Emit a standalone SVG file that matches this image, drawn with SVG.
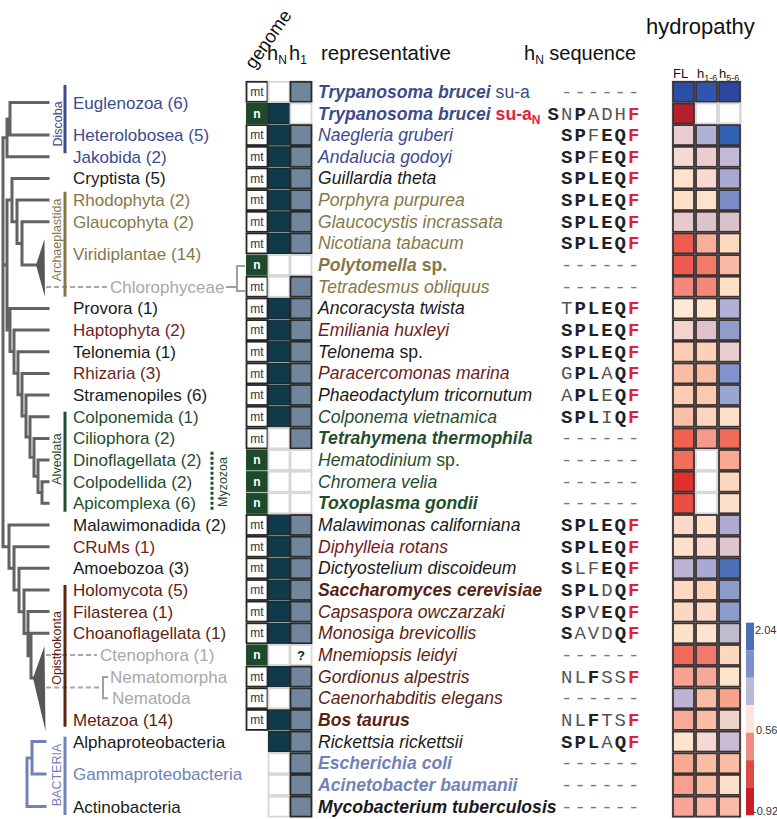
<svg xmlns="http://www.w3.org/2000/svg" xmlns:xlink="http://www.w3.org/1999/xlink" width="777" height="819" viewBox="0 0 777 819">
<defs>
<style>
text{font-family:"Liberation Sans",Arial,sans-serif}
.hdr{font-size:20px;fill:#111}
.sub{font-size:12px}
.tx{font-size:17px}
.rep{font-size:17.6px;font-style:italic}
.bd{font-weight:bold}
.up{font-style:normal}
.clade{font-size:12.5px;text-anchor:middle}
.seq{font-family:"Liberation Mono","Courier New",monospace;font-size:19px;letter-spacing:2px}
.k{font-weight:bold;fill:#222}
.g{fill:#555}
.r{font-weight:bold;fill:#e3203b}
.dash{fill:#777}
.tree{fill:none;stroke:#626262;stroke-width:3;stroke-linecap:square}
.btree{fill:none;stroke:#7282b8;stroke-width:3;stroke-linecap:square}
.dsh{fill:none;stroke:#a8a8a8;stroke-width:2;stroke-dasharray:5 3}
.brk{fill:none;stroke:#a0a0a0;stroke-width:2}
.bar{fill:none;stroke-width:3}
.mtb{fill:#fff;stroke:#262626;stroke-width:1.8}
.mtt{font-size:12px;fill:#333;text-anchor:middle}
.nb{fill:#1d4a2b;stroke:#1d4a2b;stroke-width:1}
.nt{font-size:12px;font-weight:bold;fill:#fff;text-anchor:middle}
.hnf{fill:#103a49;stroke:#1b2b33;stroke-width:1.2}
.h1f{fill:#71859d;stroke:#2a2a2a;stroke-width:1.8}
.emp{fill:#fff;stroke:#d6d6d6;stroke-width:1.8}
.hm{stroke:#3b3232;stroke-width:1.8}
.leg{font-size:11px;fill:#333}
</style>
<g id="gmt"><rect class="mtb" x="0" y="0" width="21" height="20"/><text class="mtt" x="10.5" y="14.2">mt</text></g>
<g id="gn"><rect class="nb" x="0" y="0" width="21" height="20"/><text class="nt" x="10.5" y="14.2">n</text></g>
<rect id="chn" class="hnf" width="21" height="20"/>
<rect id="ch1" class="h1f" width="21" height="20"/>
<rect id="ce" class="emp" width="21" height="20"/>
<g id="cq"><rect class="emp" width="21" height="20"/><text x="10.5" y="15" font-size="13" font-weight="bold" text-anchor="middle" fill="#222">?</text></g>
</defs>
<rect width="777" height="819" fill="#fff"/>

<g id="headers">
<text style="font-size:18.5px;fill:#111" transform="translate(254,70) rotate(-55)">genome</text>
<text class="hdr" x="267" y="60">h<tspan class="sub" dy="4">N</tspan></text>
<text class="hdr" x="289" y="60">h<tspan class="sub" dy="4">1</tspan></text>
<text class="hdr" x="321" y="60" style="font-size:20.5px">representative</text>
<text class="hdr" x="524" y="60">h<tspan class="sub" dy="4">N</tspan><tspan dy="-4"> sequence</tspan></text>
<text x="646" y="34" style="font-size:22px;fill:#111">hydropathy</text>
<text x="673" y="78" font-size="13" fill="#111">FL</text>
<text x="697" y="78" font-size="13" fill="#111">h<tspan font-size="9" dy="3">1-6</tspan></text>
<text x="719" y="78" font-size="13" fill="#111">h<tspan font-size="9" dy="3">5-6</tspan></text>
</g>

<g id="connectors">
<path class="tree" d="M10,102.6V135.1 M10,102.6H48 M10,135.1H48 M7,118.9V156.8 M7,118.9H10 M7,156.8H48
M3,137.8V546.7 M3,137.8H7 M3,265.1H7 M3,546.7H9
M7,200.1V330.1 M7,200.1H12 M7,330.1H10
M12,178.4V221.8 M12,178.4H48 M12,221.8H17 M17,200.1V243.4 M17,200.1H48 M17,243.4H22 M22,221.8V265.1 M22,221.8H48 M22,265.1H37
M10,308.4V351.6 M10,308.4H48 M10,351.6H14 M14,330.1V373.2 M14,330.1H48 M14,373.2H18 M18,351.7V394.7 M18,351.7H48 M18,394.7H22 M22,373.4V416 M22,373.4H48 M22,416H26 M26,395V437 M26,395H48 M26,437H30 M30,416.7V457.3 M30,416.7H48 M30,457.3H34 M34,438.4V476.3 M34,438.4H48 M34,476.3H38 M38,460V492.5 M38,460H48 M38,492.5H42 M42,481.7V503.3 M42,481.7H48 M42,503.3H48
M9,525V568.3 M9,525H48 M9,568.3H14 M14,546.7V590 M14,546.7H48 M14,590H19 M19,568.3V611.8 M19,568.3H48 M19,611.8H24 M24,590V633.6 M24,590H48 M24,633.6H28 M28,611.6V655.7 M28,611.6H48 M28,655.7H31 M31,633.3V678 M31,633.3H48 M31,678H34"/>
<polygon points="44.5,239 36,265.1 45,297" fill="#575757"/>
<polygon points="44.5,646 33,678 45.5,731" fill="#575757"/>
<path class="btree" d="M32,741.6V774.1 M32,741.6H45 M32,774.1H45 M27,757.9V806.6 M27,757.9H32 M27,806.6H45"/>
<path class="dsh" d="M46,287H107 M46,655H97 M46,687.5H102"/>
<path class="brk" d="M226,287H237 M245,266H237V291H245 M108,677H103V698.3H108"/>
</g>

<g id="clades">
<g id="clade-discoba"><line class="bar" x1="65" y1="85" x2="65" y2="153.3" stroke="#3d4b8c"/><text class="clade" fill="#3d4b8c" transform="translate(62,124) rotate(-90)">Discoba</text></g>
<g id="clade-archaeplastida"><line class="bar" x1="65" y1="191.7" x2="65" y2="296.7" stroke="#857848"/><text class="clade" fill="#857848" transform="translate(61,240) rotate(-90)">Archaeplastida</text></g>
<g id="clade-alveolata"><line class="bar" x1="65" y1="411.7" x2="65" y2="511.7" stroke="#1f4e2c"/><text class="clade" fill="#1f4e2c" transform="translate(61,459) rotate(-90)">Alveolata</text></g>
<g id="clade-myzozoa"><line class="bar" x1="212" y1="451.7" x2="212" y2="510" stroke="#1f4e2c" stroke-dasharray="3 2"/><text class="clade" fill="#1f4e2c" transform="translate(227,482) rotate(-90)">Myzozoa</text></g>
<g id="clade-opisthokonta"><line class="bar" x1="65" y1="585" x2="65" y2="726.7" stroke="#5b2412"/><text class="clade" fill="#5b2412" transform="translate(61,648) rotate(-90)">Opisthokonta</text></g>
<g id="clade-bacteria"><line class="bar" x1="65" y1="736.7" x2="65" y2="815" stroke="#7282b8"/><text class="clade" fill="#7282b8" transform="translate(61,775) rotate(-90)">BACTERIA</text></g>
</g>

<g id="taxa" class="tx">
<text id="t-euglenozoa" class="tx" x="73" y="108.6" fill="#3d4b8c">Euglenozoa (6)</text>
<text id="t-heterolobosea" class="tx" x="73" y="141.1" fill="#3d4b8c">Heterolobosea (5)</text>
<text id="t-jakobida" class="tx" x="73" y="162.8" fill="#3d4b8c">Jakobida (2)</text>
<text id="t-cryptista" class="tx" x="73" y="184.4" fill="#1a1a1a">Cryptista (5)</text>
<text id="t-rhodophyta" class="tx" x="73" y="206.1" fill="#857848">Rhodophyta (2)</text>
<text id="t-glaucophyta" class="tx" x="73" y="227.8" fill="#857848">Glaucophyta (2)</text>
<text id="t-viridiplantae" class="tx" x="73" y="260.3" fill="#857848">Viridiplantae (14)</text>
<text id="t-chlorophyceae" class="tx" x="110" y="292.7" fill="#a8a8a8">Chlorophyceae</text>
<text id="t-provora" class="tx" x="73" y="314.4" fill="#1a1a1a">Provora (1)</text>
<text id="t-haptophyta" class="tx" x="73" y="336.1" fill="#6e1e1e">Haptophyta (2)</text>
<text id="t-telonemia" class="tx" x="73" y="357.7" fill="#1a1a1a">Telonemia (1)</text>
<text id="t-rhizaria" class="tx" x="73" y="379.4" fill="#6e1e1e">Rhizaria (3)</text>
<text id="t-stramenopiles" class="tx" x="73" y="401" fill="#1a1a1a">Stramenopiles (6)</text>
<text id="t-colponemida" class="tx" x="73" y="422.7" fill="#1f4e2c">Colponemida (1)</text>
<text id="t-ciliophora" class="tx" x="73" y="444.4" fill="#1f4e2c">Ciliophora (2)</text>
<text id="t-dinoflagellata" class="tx" x="73" y="466" fill="#1f4e2c">Dinoflagellata (2)</text>
<text id="t-colpodellida" class="tx" x="73" y="487.7" fill="#1f4e2c">Colpodellida (2)</text>
<text id="t-apicomplexa" class="tx" x="73" y="509.3" fill="#1f4e2c">Apicomplexa (6)</text>
<text id="t-malawimonadida" class="tx" x="73" y="531" fill="#1a1a1a">Malawimonadida (2)</text>
<text id="t-crums" class="tx" x="73" y="552.7" fill="#6e1e1e">CRuMs (1)</text>
<text id="t-amoebozoa" class="tx" x="73" y="574.3" fill="#1a1a1a">Amoebozoa (3)</text>
<text id="t-holomycota" class="tx" x="73" y="596" fill="#5b2412">Holomycota (5)</text>
<text id="t-filasterea" class="tx" x="73" y="617.6" fill="#5b2412">Filasterea (1)</text>
<text id="t-choanoflagellata" class="tx" x="73" y="639.3" fill="#5b2412">Choanoflagellata (1)</text>
<text id="t-ctenophora" class="tx" x="100" y="661" fill="#a8a8a8">Ctenophora (1)</text>
<text id="t-nematomorpha" class="tx" x="110" y="682.6" fill="#a8a8a8">Nematomorpha</text>
<text id="t-nematoda" class="tx" x="112" y="704.3" fill="#a8a8a8">Nematoda</text>
<text id="t-metazoa" class="tx" x="73" y="725.9" fill="#5b2412">Metazoa (14)</text>
<text id="t-alpha" class="tx" x="73" y="747.6" fill="#1a1a1a">Alphaproteobacteria</text>
<text id="t-gamma" class="tx" x="73" y="780.1" fill="#7282b8">Gammaproteobacteria</text>
<text id="t-actino" class="tx" x="73" y="812.6" fill="#1a1a1a">Actinobacteria</text>
</g>

<rect x="671" y="80.5" width="71" height="737.5" fill="#e4e9ef"/>

<g id="rows">
<g id="r0"><use href="#gmt" x="246.5" y="81.8"/><use href="#ce" x="268.5" y="81.8"/><use href="#ch1" x="290.5" y="81.8"/>
<text class="rep" x="318" y="97.8" fill="#3d4b8c"><tspan class="bd">Trypanosoma brucei</tspan><tspan class="up"> su-a</tspan></text>
<text class="seq dash" x="561" y="97.8">------</text>
<rect class="hm" x="673" y="81.8" width="21" height="20" fill="#2c4fa6"/><rect class="hm" x="696" y="81.8" width="21" height="20" fill="#2f56ae"/><rect class="hm" x="719" y="81.8" width="21" height="20" fill="#2b47a2"/></g>

<g id="r1"><use href="#gn" x="246.5" y="103.5"/><use href="#chn" x="268.5" y="103.5"/><use href="#ce" x="290.5" y="103.5"/>
<text class="rep bd" x="318" y="119.5" fill="#3d4b8c">Trypanosoma brucei<tspan class="up" fill="#e3203b"> su-a</tspan><tspan class="up sub" fill="#e3203b" dy="4">N</tspan></text>
<text class="seq" x="547.6" y="119.5"><tspan class="k">S</tspan><tspan class="g">N</tspan><tspan class="k">P</tspan><tspan class="g">ADH</tspan><tspan class="r">F</tspan></text>
<rect class="hm" x="673" y="103.5" width="21" height="20" fill="#b5212b"/><use href="#ce" x="696" y="103.5"/><use href="#ce" x="719" y="103.5"/></g>

<g id="r2"><use href="#gmt" x="246.5" y="125.1"/><use href="#chn" x="268.5" y="125.1"/><use href="#ch1" x="290.5" y="125.1"/>
<text class="rep" x="318" y="141.1" fill="#3d4b8c">Naegleria gruberi</text>
<text class="seq" x="561" y="141.1"><tspan class="k">SP</tspan><tspan class="g">F</tspan><tspan class="k">EQ</tspan><tspan class="r">F</tspan></text>
<rect class="hm" x="673" y="125.1" width="21" height="20" fill="#ebccd0"/><rect class="hm" x="696" y="125.1" width="21" height="20" fill="#afb0d6"/><rect class="hm" x="719" y="125.1" width="21" height="20" fill="#3462b3"/></g>

<g id="r3"><use href="#gmt" x="246.5" y="146.8"/><use href="#chn" x="268.5" y="146.8"/><use href="#ch1" x="290.5" y="146.8"/>
<text class="rep" x="318" y="162.8" fill="#3d4b8c">Andalucia godoyi</text>
<text class="seq" x="561" y="162.8"><tspan class="k">SP</tspan><tspan class="g">F</tspan><tspan class="k">EQ</tspan><tspan class="r">F</tspan></text>
<rect class="hm" x="673" y="146.8" width="21" height="20" fill="#f6d9d4"/><rect class="hm" x="696" y="146.8" width="21" height="20" fill="#ebcdd0"/><rect class="hm" x="719" y="146.8" width="21" height="20" fill="#c2b9d8"/></g>

<g id="r4"><use href="#gmt" x="246.5" y="168.4"/><use href="#chn" x="268.5" y="168.4"/><use href="#ch1" x="290.5" y="168.4"/>
<text class="rep" x="318" y="184.4" fill="#1a1a1a">Guillardia theta</text>
<text class="seq" x="561" y="184.4"><tspan class="k">SPLEQ</tspan><tspan class="r">F</tspan></text>
<rect class="hm" x="673" y="168.4" width="21" height="20" fill="#fde3cb"/><rect class="hm" x="696" y="168.4" width="21" height="20" fill="#fbd9d2"/><rect class="hm" x="719" y="168.4" width="21" height="20" fill="#a8a8d3"/></g>

<g id="r5"><use href="#gmt" x="246.5" y="190.1"/><use href="#chn" x="268.5" y="190.1"/><use href="#ch1" x="290.5" y="190.1"/>
<text class="rep" x="318" y="206.1" fill="#857848">Porphyra purpurea</text>
<text class="seq" x="561" y="206.1"><tspan class="k">SPLEQ</tspan><tspan class="r">F</tspan></text>
<rect class="hm" x="673" y="190.1" width="21" height="20" fill="#fde0c7"/><rect class="hm" x="696" y="190.1" width="21" height="20" fill="#fde3cb"/><rect class="hm" x="719" y="190.1" width="21" height="20" fill="#7a8dc8"/></g>

<g id="r6"><use href="#gmt" x="246.5" y="211.8"/><use href="#chn" x="268.5" y="211.8"/><use href="#ch1" x="290.5" y="211.8"/>
<text class="rep" x="318" y="227.8" fill="#857848">Glaucocystis incrassata</text>
<text class="seq" x="561" y="227.8"><tspan class="k">SPLEQ</tspan><tspan class="r">F</tspan></text>
<rect class="hm" x="673" y="211.8" width="21" height="20" fill="#e7c9cc"/><rect class="hm" x="696" y="211.8" width="21" height="20" fill="#dcc2c9"/><rect class="hm" x="719" y="211.8" width="21" height="20" fill="#d8c2c9"/></g>

<g id="r7"><use href="#gmt" x="246.5" y="233.4"/><use href="#chn" x="268.5" y="233.4"/><use href="#ch1" x="290.5" y="233.4"/>
<text class="rep" x="318" y="249.4" fill="#857848">Nicotiana tabacum</text>
<text class="seq" x="561" y="249.4"><tspan class="k">SPLEQ</tspan><tspan class="r">F</tspan></text>
<rect class="hm" x="673" y="233.4" width="21" height="20" fill="#ef5b4d"/><rect class="hm" x="696" y="233.4" width="21" height="20" fill="#f8ae97"/><rect class="hm" x="719" y="233.4" width="21" height="20" fill="#fdd9be"/></g>

<g id="r8"><use href="#gn" x="246.5" y="255.1"/><use href="#ce" x="268.5" y="255.1"/><use href="#ce" x="290.5" y="255.1"/>
<text class="rep bd" x="318" y="271.1" fill="#857848">Polytomella<tspan class="up"> sp.</tspan></text>
<text class="seq dash" x="561" y="271.1">------</text>
<rect class="hm" x="673" y="255.1" width="21" height="20" fill="#ee5a4d"/><rect class="hm" x="696" y="255.1" width="21" height="20" fill="#f27a66"/><rect class="hm" x="719" y="255.1" width="21" height="20" fill="#f8b9a4"/></g>

<g id="r9"><use href="#gmt" x="246.5" y="276.7"/><use href="#ce" x="268.5" y="276.7"/><use href="#ch1" x="290.5" y="276.7"/>
<text class="rep" x="318" y="292.7" fill="#857848">Tetradesmus obliquus</text>
<text class="seq dash" x="561" y="292.7">------</text>
<rect class="hm" x="673" y="276.7" width="21" height="20" fill="#f4887a"/><rect class="hm" x="696" y="276.7" width="21" height="20" fill="#f4897b"/><rect class="hm" x="719" y="276.7" width="21" height="20" fill="#fde0c6"/></g>

<g id="r10"><use href="#gmt" x="246.5" y="298.4"/><use href="#chn" x="268.5" y="298.4"/><use href="#ch1" x="290.5" y="298.4"/>
<text class="rep" x="318" y="314.4" fill="#1a1a1a">Ancoracysta twista</text>
<text class="seq" x="561" y="314.4"><tspan class="g">T</tspan><tspan class="k">PLEQ</tspan><tspan class="r">F</tspan></text>
<rect class="hm" x="673" y="298.4" width="21" height="20" fill="#fde9d4"/><rect class="hm" x="696" y="298.4" width="21" height="20" fill="#fde4cc"/><rect class="hm" x="719" y="298.4" width="21" height="20" fill="#b1b0d7"/></g>

<g id="r11"><use href="#gmt" x="246.5" y="320.1"/><use href="#chn" x="268.5" y="320.1"/><use href="#ch1" x="290.5" y="320.1"/>
<text class="rep" x="318" y="336.1" fill="#6e1e1e">Emiliania huxleyi</text>
<text class="seq" x="561" y="336.1"><tspan class="k">SPLEQ</tspan><tspan class="r">F</tspan></text>
<rect class="hm" x="673" y="320.1" width="21" height="20" fill="#f3d4cc"/><rect class="hm" x="696" y="320.1" width="21" height="20" fill="#ddc1cc"/><rect class="hm" x="719" y="320.1" width="21" height="20" fill="#909ccc"/></g>

<g id="r12"><use href="#gmt" x="246.5" y="341.7"/><use href="#chn" x="268.5" y="341.7"/><use href="#ch1" x="290.5" y="341.7"/>
<text class="rep" x="318" y="357.7" fill="#1a1a1a">Telonema<tspan class="up"> sp.</tspan></text>
<text class="seq" x="561" y="357.7"><tspan class="k">SPLEQ</tspan><tspan class="r">F</tspan></text>
<rect class="hm" x="673" y="341.7" width="21" height="20" fill="#fccdb4"/><rect class="hm" x="696" y="341.7" width="21" height="20" fill="#fdd1b8"/><rect class="hm" x="719" y="341.7" width="21" height="20" fill="#e9cdd0"/></g>

<g id="r13"><use href="#gmt" x="246.5" y="363.4"/><use href="#chn" x="268.5" y="363.4"/><use href="#ch1" x="290.5" y="363.4"/>
<text class="rep" x="318" y="379.4" fill="#6e1e1e">Paracercomonas marina</text>
<text class="seq" x="561" y="379.4"><tspan class="g">G</tspan><tspan class="k">PL</tspan><tspan class="g">A</tspan><tspan class="k">Q</tspan><tspan class="r">F</tspan></text>
<rect class="hm" x="673" y="363.4" width="21" height="20" fill="#fbbca4"/><rect class="hm" x="696" y="363.4" width="21" height="20" fill="#fbbda6"/><rect class="hm" x="719" y="363.4" width="21" height="20" fill="#7f95cc"/></g>

<g id="r14"><use href="#gmt" x="246.5" y="385"/><use href="#chn" x="268.5" y="385"/><use href="#ch1" x="290.5" y="385"/>
<text class="rep" x="318" y="401" fill="#1a1a1a">Phaeodactylum tricornutum</text>
<text class="seq" x="561" y="401"><tspan class="g">A</tspan><tspan class="k">PL</tspan><tspan class="g">E</tspan><tspan class="k">Q</tspan><tspan class="r">F</tspan></text>
<rect class="hm" x="673" y="385" width="21" height="20" fill="#fccdb4"/><rect class="hm" x="696" y="385" width="21" height="20" fill="#fcc9b0"/><rect class="hm" x="719" y="385" width="21" height="20" fill="#9aa6d0"/></g>

<g id="r15"><use href="#gmt" x="246.5" y="406.7"/><use href="#chn" x="268.5" y="406.7"/><use href="#ch1" x="290.5" y="406.7"/>
<text class="rep" x="318" y="422.7" fill="#1f4e2c">Colponema vietnamica</text>
<text class="seq" x="561" y="422.7"><tspan class="k">SPL</tspan><tspan class="g">I</tspan><tspan class="k">Q</tspan><tspan class="r">F</tspan></text>
<rect class="hm" x="673" y="406.7" width="21" height="20" fill="#fbc1a8"/><rect class="hm" x="696" y="406.7" width="21" height="20" fill="#fdd5bc"/><rect class="hm" x="719" y="406.7" width="21" height="20" fill="#fde1cb"/></g>

<g id="r16"><use href="#gmt" x="246.5" y="428.4"/><use href="#ce" x="268.5" y="428.4"/><use href="#ch1" x="290.5" y="428.4"/>
<text class="rep bd" x="318" y="444.4" fill="#1f4e2c">Tetrahymena thermophila</text>
<text class="seq dash" x="561" y="444.4">------</text>
<rect class="hm" x="673" y="428.4" width="21" height="20" fill="#f0614f"/><rect class="hm" x="696" y="428.4" width="21" height="20" fill="#f6998a"/><rect class="hm" x="719" y="428.4" width="21" height="20" fill="#f06b5a"/></g>

<g id="r17"><use href="#gn" x="246.5" y="450"/><use href="#ce" x="268.5" y="450"/><use href="#ce" x="290.5" y="450"/>
<text class="rep" x="318" y="466" fill="#1f4e2c">Hematodinium<tspan class="up"> sp.</tspan></text>
<text class="seq dash" x="561" y="466">------</text>
<rect class="hm" x="673" y="450" width="21" height="20" fill="#f0705e"/><use href="#ce" x="696" y="450"/><rect class="hm" x="719" y="450" width="21" height="20" fill="#f8a890"/></g>

<g id="r18"><use href="#gn" x="246.5" y="471.7"/><use href="#ce" x="268.5" y="471.7"/><use href="#ce" x="290.5" y="471.7"/>
<text class="rep" x="318" y="487.7" fill="#1f4e2c">Chromera velia</text>
<text class="seq dash" x="561" y="487.7">------</text>
<rect class="hm" x="673" y="471.7" width="21" height="20" fill="#e0302b"/><use href="#ce" x="696" y="471.7"/><rect class="hm" x="719" y="471.7" width="21" height="20" fill="#fdd8c0"/></g>

<g id="r19"><use href="#gn" x="246.5" y="493.3"/><use href="#ce" x="268.5" y="493.3"/><use href="#ce" x="290.5" y="493.3"/>
<text class="rep bd" x="318" y="509.3" fill="#1f4e2c">Toxoplasma gondii</text>
<text class="seq dash" x="561" y="509.3">------</text>
<rect class="hm" x="673" y="493.3" width="21" height="20" fill="#ec4d40"/><use href="#ce" x="696" y="493.3"/><rect class="hm" x="719" y="493.3" width="21" height="20" fill="#fde0cb"/></g>

<g id="r20"><use href="#gmt" x="246.5" y="515"/><use href="#chn" x="268.5" y="515"/><use href="#ch1" x="290.5" y="515"/>
<text class="rep" x="318" y="531" fill="#1a1a1a">Malawimonas californiana</text>
<text class="seq" x="561" y="531"><tspan class="k">SPLEQ</tspan><tspan class="r">F</tspan></text>
<rect class="hm" x="673" y="515" width="21" height="20" fill="#fad8cc"/><rect class="hm" x="696" y="515" width="21" height="20" fill="#fde1cc"/><rect class="hm" x="719" y="515" width="21" height="20" fill="#aeaad0"/></g>

<g id="r21"><use href="#gmt" x="246.5" y="536.7"/><use href="#chn" x="268.5" y="536.7"/><use href="#ch1" x="290.5" y="536.7"/>
<text class="rep" x="318" y="552.7" fill="#6e1e1e">Diphylleia rotans</text>
<text class="seq" x="561" y="552.7"><tspan class="k">SPLEQ</tspan><tspan class="r">F</tspan></text>
<rect class="hm" x="673" y="536.7" width="21" height="20" fill="#fde2cb"/><rect class="hm" x="696" y="536.7" width="21" height="20" fill="#fad9cf"/><rect class="hm" x="719" y="536.7" width="21" height="20" fill="#e0c5cc"/></g>

<g id="r22"><use href="#gmt" x="246.5" y="558.3"/><use href="#chn" x="268.5" y="558.3"/><use href="#ch1" x="290.5" y="558.3"/>
<text class="rep" x="318" y="574.3" fill="#1a1a1a">Dictyostelium discoideum</text>
<text class="seq" x="561" y="574.3"><tspan class="k">S</tspan><tspan class="g">LF</tspan><tspan class="k">EQ</tspan><tspan class="r">F</tspan></text>
<rect class="hm" x="673" y="558.3" width="21" height="20" fill="#bcb4d4"/><rect class="hm" x="696" y="558.3" width="21" height="20" fill="#a9a9d4"/><rect class="hm" x="719" y="558.3" width="21" height="20" fill="#4a71b9"/></g>

<g id="r23"><use href="#gmt" x="246.5" y="580"/><use href="#chn" x="268.5" y="580"/><use href="#ch1" x="290.5" y="580"/>
<text class="rep bd" x="318" y="596" fill="#5b2412">Saccharomyces cerevisiae</text>
<text class="seq" x="561" y="596"><tspan class="k">SPL</tspan><tspan class="g">D</tspan><tspan class="k">Q</tspan><tspan class="r">F</tspan></text>
<rect class="hm" x="673" y="580" width="21" height="20" fill="#fdd8c3"/><rect class="hm" x="696" y="580" width="21" height="20" fill="#fcd4bb"/><rect class="hm" x="719" y="580" width="21" height="20" fill="#8c9ccc"/></g>

<g id="r24"><use href="#gmt" x="246.5" y="601.6"/><use href="#chn" x="268.5" y="601.6"/><use href="#ch1" x="290.5" y="601.6"/>
<text class="rep" x="318" y="617.6" fill="#5b2412">Capsaspora owczarzaki</text>
<text class="seq" x="561" y="617.6"><tspan class="k">SP</tspan><tspan class="g">V</tspan><tspan class="k">EQ</tspan><tspan class="r">F</tspan></text>
<rect class="hm" x="673" y="601.6" width="21" height="20" fill="#fdd8c0"/><rect class="hm" x="696" y="601.6" width="21" height="20" fill="#fcd8c6"/><rect class="hm" x="719" y="601.6" width="21" height="20" fill="#8a9bcc"/></g>

<g id="r25"><use href="#gmt" x="246.5" y="623.3"/><use href="#chn" x="268.5" y="623.3"/><use href="#ch1" x="290.5" y="623.3"/>
<text class="rep" x="318" y="639.3" fill="#5b2412">Monosiga brevicollis</text>
<text class="seq" x="561" y="639.3"><tspan class="k">S</tspan><tspan class="g">AVD</tspan><tspan class="k">Q</tspan><tspan class="r">F</tspan></text>
<rect class="hm" x="673" y="623.3" width="21" height="20" fill="#fde1c8"/><rect class="hm" x="696" y="623.3" width="21" height="20" fill="#fde4cf"/><rect class="hm" x="719" y="623.3" width="21" height="20" fill="#c0bccd"/></g>

<g id="r26"><use href="#gn" x="246.5" y="645"/><use href="#ce" x="268.5" y="645"/><use href="#cq" x="290.5" y="645"/>
<text class="rep" x="318" y="661" fill="#5b2412">Mnemiopsis leidyi</text>
<text class="seq dash" x="561" y="661">------</text>
<rect class="hm" x="673" y="645" width="21" height="20" fill="#f06a5c"/><rect class="hm" x="696" y="645" width="21" height="20" fill="#f07b6c"/><rect class="hm" x="719" y="645" width="21" height="20" fill="#fdd8bf"/></g>

<g id="r27"><use href="#gmt" x="246.5" y="666.6"/><use href="#chn" x="268.5" y="666.6"/><use href="#ch1" x="290.5" y="666.6"/>
<text class="rep" x="318" y="682.6" fill="#5b2412">Gordionus alpestris</text>
<text class="seq" x="561" y="682.6"><tspan class="g">NL</tspan><tspan class="k">F</tspan><tspan class="g">SS</tspan><tspan class="r">F</tspan></text>
<rect class="hm" x="673" y="666.6" width="21" height="20" fill="#f8a294"/><rect class="hm" x="696" y="666.6" width="21" height="20" fill="#f8a898"/><rect class="hm" x="719" y="666.6" width="21" height="20" fill="#fde4cb"/></g>

<g id="r28"><use href="#gmt" x="246.5" y="688.3"/><use href="#ce" x="268.5" y="688.3"/><use href="#ch1" x="290.5" y="688.3"/>
<text class="rep" x="318" y="704.3" fill="#5b2412">Caenorhabditis elegans</text>
<text class="seq dash" x="561" y="704.3">------</text>
<rect class="hm" x="673" y="688.3" width="21" height="20" fill="#bdb4d3"/><rect class="hm" x="696" y="688.3" width="21" height="20" fill="#fbbca6"/><rect class="hm" x="719" y="688.3" width="21" height="20" fill="#f8a48c"/></g>

<g id="r29"><use href="#gmt" x="246.5" y="709.9"/><use href="#chn" x="268.5" y="709.9"/><use href="#ch1" x="290.5" y="709.9"/>
<text class="rep bd" x="318" y="725.9" fill="#5b2412">Bos taurus</text>
<text class="seq" x="561" y="725.9"><tspan class="g">NL</tspan><tspan class="k">F</tspan><tspan class="g">TS</tspan><tspan class="r">F</tspan></text>
<rect class="hm" x="673" y="709.9" width="21" height="20" fill="#f8aa98"/><rect class="hm" x="696" y="709.9" width="21" height="20" fill="#fbbda6"/><rect class="hm" x="719" y="709.9" width="21" height="20" fill="#efd4cc"/></g>

<g id="r30"><use href="#chn" x="268.5" y="731.6"/><use href="#ch1" x="290.5" y="731.6"/>
<text class="rep" x="318" y="747.6" fill="#1a1a1a">Rickettsia rickettsii</text>
<text class="seq" x="561" y="747.6"><tspan class="k">SPL</tspan><tspan class="g">A</tspan><tspan class="k">Q</tspan><tspan class="r">F</tspan></text>
<rect class="hm" x="673" y="731.6" width="21" height="20" fill="#fde4cc"/><rect class="hm" x="696" y="731.6" width="21" height="20" fill="#f7d8d4"/><rect class="hm" x="719" y="731.6" width="21" height="20" fill="#cabcd4"/></g>

<g id="r31"><use href="#ce" x="268.5" y="753.3"/><use href="#ch1" x="290.5" y="753.3"/>
<text class="rep bd" x="318" y="769.3" fill="#7282b8">Escherichia coli</text>
<text class="seq dash" x="561" y="769.3">------</text>
<rect class="hm" x="673" y="753.3" width="21" height="20" fill="#f8aa90"/><rect class="hm" x="696" y="753.3" width="21" height="20" fill="#fbbca4"/><rect class="hm" x="719" y="753.3" width="21" height="20" fill="#fbbca4"/></g>

<g id="r32"><use href="#ce" x="268.5" y="774.9"/><use href="#ch1" x="290.5" y="774.9"/>
<text class="rep bd" x="318" y="790.9" fill="#7282b8">Acinetobacter baumanii</text>
<text class="seq dash" x="561" y="790.9">------</text>
<rect class="hm" x="673" y="774.9" width="21" height="20" fill="#f8a090"/><rect class="hm" x="696" y="774.9" width="21" height="20" fill="#fbbca6"/><rect class="hm" x="719" y="774.9" width="21" height="20" fill="#fde0cb"/></g>

<g id="r33"><use href="#ce" x="268.5" y="796.6"/><use href="#ch1" x="290.5" y="796.6"/>
<text class="rep bd" x="318" y="812.6" fill="#1a1a1a">Mycobacterium tuberculosis</text>
<text class="seq dash" x="561" y="812.6">------</text>
<rect class="hm" x="673" y="796.6" width="21" height="20" fill="#f8a498"/><rect class="hm" x="696" y="796.6" width="21" height="20" fill="#fbb8a8"/><rect class="hm" x="719" y="796.6" width="21" height="20" fill="#fbbaa6"/></g>
</g>

<g id="legend">
<rect x="746" y="622.7" width="8" height="27.6" fill="#4a6fb8"/>
<rect x="746" y="650.2" width="8" height="27.6" fill="#7a91cc"/>
<rect x="746" y="677.7" width="8" height="27.6" fill="#b9b9d9"/>
<rect x="746" y="705.2" width="8" height="27.6" fill="#fde6dc"/>
<rect x="746" y="732.7" width="8" height="27.6" fill="#ee8c82"/>
<rect x="746" y="760.2" width="8" height="27.6" fill="#dd4a45"/>
<rect x="746" y="787.7" width="8" height="27.5" fill="#c81e2a"/>
<text class="leg" x="755" y="634">2.04</text>
<text class="leg" x="756" y="734">0.56</text>
<text class="leg" x="753" y="815">-0.92</text>
</g>
</svg>
